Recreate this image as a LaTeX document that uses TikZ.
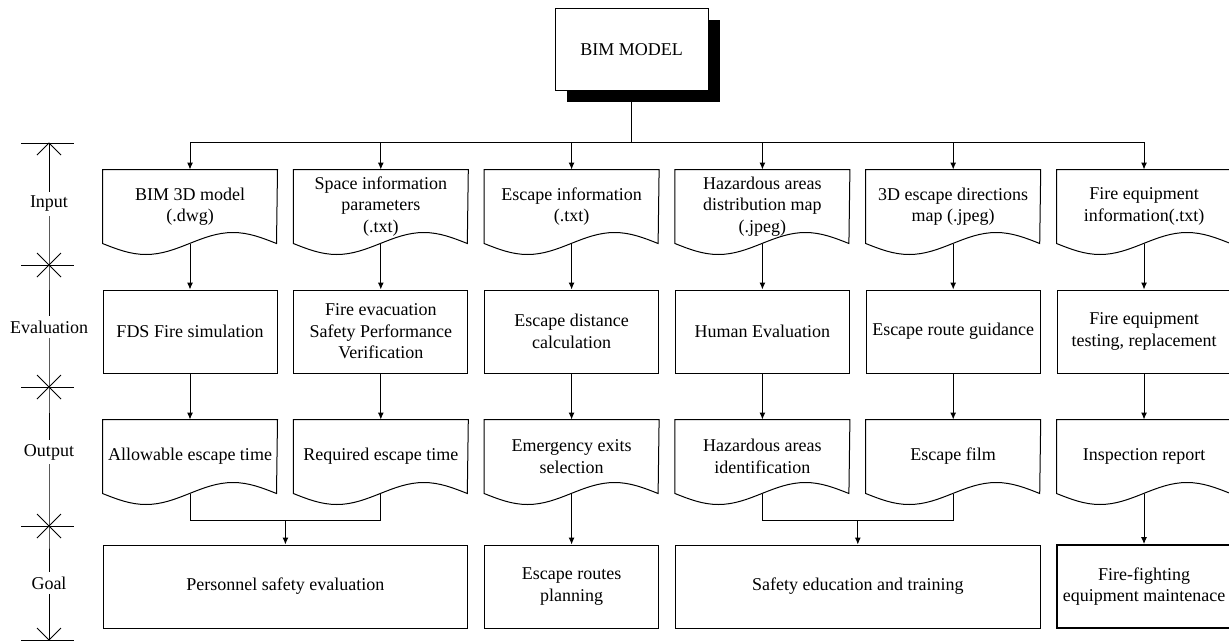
\documentclass[tikz,border=0pt]{standalone}
\usepackage{fontspec}
\setmainfont{Liberation Serif}
\usetikzlibrary{arrows.meta, positioning, calc, shadows}
\tikzstyle{every node}=[font=\fontsize{9}{10.8}\selectfont]
\tikzstyle{block}=[draw,fill=white,rectangle,align=center,minimum width=87pt,minimum height=41.5pt,inner sep=2pt]
\tikzstyle{doc}=[rectangle,align=center,minimum width=87pt,minimum height=36.5pt,inner sep=2pt]
\tikzstyle{stage}=[inner sep=2pt]

\begin{document}
\begin{tikzpicture}[x=0.5pt, y=-0.5pt, >={Latex[length=3.5pt,width=3pt]}, line width=0.5pt, node distance=95.4pt]
  \useasboundingbox (0,0) rectangle (1229,642);
  % top model
  \node[block, minimum width=76.5pt, minimum height=41pt,
        drop shadow={shadow xshift=6pt, shadow yshift=-5.5pt, fill=black, opacity=1}] (bim) at (631.5,50) {BIM MODEL};
  \coordinate (br) at (631.5,142);
  % input row
  \node[doc] (in1) at (190,206.5) {BIM 3D model\\(.dwg)};
  \node[doc, right of=in1] (in2) {Space information\\parameters\\(.txt)};
  \node[doc, right of=in2] (in3) {Escape information\\(.txt)};
  \node[doc, right of=in3] (in4) {Hazardous areas\\distribution map\\(.jpeg)};
  \node[doc, right of=in4] (in5) {3D escape directions\\map (.jpeg)};
  \node[doc, right of=in5] (in6) {Fire equipment\\information(.txt)};
  % evaluation row
  \node[block, below of=in1, node distance=62.5pt] (ev1) {FDS Fire simulation};
  \node[block, below of=in2, node distance=62.5pt] (ev2) {Fire evacuation\\Safety Performance\\Verification};
  \node[block, below of=in3, node distance=62.5pt] (ev3) {Escape distance\\calculation};
  \node[block, below of=in4, node distance=62.5pt] (ev4) {Human Evaluation};
  \node[block, below of=in5, node distance=62.5pt] (ev5) {Escape route guidance};
  \node[block, below of=in6, node distance=62.5pt] (ev6) {Fire equipment\\testing, replacement};
  % output row
  \node[doc, below of=ev1, node distance=62.5pt] (out1) {Allowable escape time};
  \node[doc, below of=ev2, node distance=62.5pt] (out2) {Required escape time};
  \node[doc, below of=ev3, node distance=62.5pt] (out3) {Emergency exits\\selection};
  \node[doc, below of=ev4, node distance=62.5pt] (out4) {Hazardous areas\\identification};
  \node[doc, below of=ev5, node distance=62.5pt] (out5) {Escape film};
  \node[doc, below of=ev6, node distance=62.5pt] (out6) {Inspection report};
  % goal row
  \node[block, minimum width=182.4pt, yshift=-65pt] (goal1) at ($(out1)!.5!(out2)$) {Personnel safety evaluation};
  \node[block, below of=out3, node distance=65pt] (goal2) {Escape routes\\planning};
  \node[block, minimum width=182.4pt, yshift=-65pt] (goal3) at ($(out4)!.5!(out5)$) {Safety education and training};
  \node[block, below of=out6, node distance=65pt, line width=0.9pt] (goal4) {Fire-fighting\\equipment maintenace};
  % document outlines
  \foreach \r in {in,out}
    \foreach \i in {1,...,6}
      \draw (\r\i.north west) -- (\r\i.south west) sin ++(21.75pt,-5.5pt) cos ++(21.75pt,5.5pt)
        sin ++(21.75pt,5.5pt) cos ++(21.75pt,-5.5pt) -- (\r\i.north east) -- cycle;
  % connectors
  \draw (bim) -- (br);
  \draw (in1.north |- br) -- (in6.north |- br);
  \foreach \i in {1,...,6} {
    \draw[->] (in\i.north |- br) -- (in\i);
    \draw[->] (in\i.south) -- (ev\i);
    \draw[->] (ev\i) -- (out\i);
  }
  \coordinate (j1) at ([yshift=12pt]goal1.north);
  \coordinate (j3) at ([yshift=12pt]goal3.north);
  \draw (out1.south) |- (j1) -| (out2.south);
  \draw (out4.south) |- (j3) -| (out5.south);
  \draw[->] (j1) -- (goal1);
  \draw[->] (j3) -- (goal3);
  \draw[->] (out3.south) -- (goal2);
  \draw[->] (out6.south) -- (goal4);
  % stage axis
  \coordinate (t0) at (49,143);
  \coordinate (t1) at (49,265);
  \coordinate (t2) at (49,387);
  \coordinate (t3) at (49,526);
  \coordinate (t4) at (49,640);
  \node[stage] (lin) at (49,204) {Input};
  \node[stage] (lev) at (49,327) {Evaluation};
  \node[stage] (lout) at (49,452) {Output};
  \node[stage] (lgoal) at (49,583) {Goal};
  \draw (t0) -- (lin) -- (t1) -- (lev) -- (t2) -- (lout) -- (t3) -- (lgoal) -- (t4);
  \foreach \k in {0,...,4}
    \draw ([xshift=-14pt]t\k) -- ([xshift=12.5pt]t\k);
  \foreach \k in {1,2,3} {
    \draw ([shift={(-6pt,6pt)}]t\k) -- ([shift={(6pt,-6pt)}]t\k);
    \draw ([shift={(-6pt,-6pt)}]t\k) -- ([shift={(6pt,6pt)}]t\k);
  }
  \draw ([shift={(-6pt,-6pt)}]t0) -- (t0) -- ([shift={(6pt,-6pt)}]t0);
  \draw ([shift={(-6pt,6pt)}]t4) -- (t4) -- ([shift={(6pt,6pt)}]t4);
\end{tikzpicture}
\end{document}
